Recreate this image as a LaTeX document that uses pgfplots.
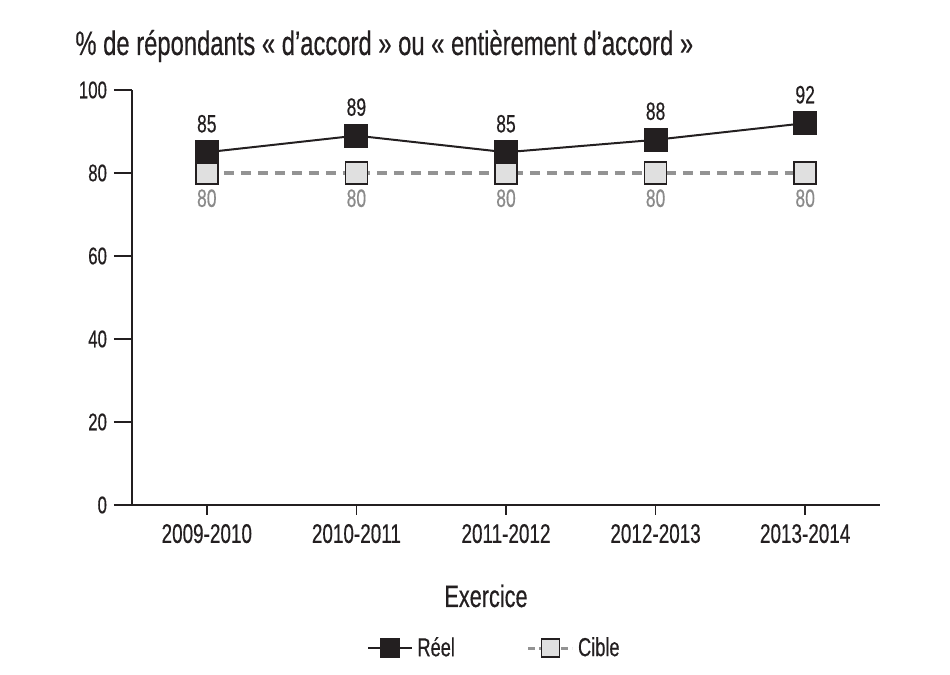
\documentclass[border=0pt]{standalone}
\usepackage{pgfplots}
\pgfplotsset{compat=1.18}
\usepackage{fontspec}
\setmainfont{Liberation Sans}[FakeStretch=0.7, FakeBold=0.4]
\definecolor{dark}{HTML}{231F20}
\definecolor{dgray}{HTML}{939393}
\definecolor{lgray}{HTML}{E0E0E0}
\definecolor{lblgray}{HTML}{8A8A8A}
\pgfplotsset{base/.style={
  at={(66pt,85pt)}, anchor=south west,
  scale only axis, width=374pt, height=207.5pt,
  xmin=-0.5, xmax=4.5, ymin=0, ymax=100,
  axis line style={-, dark, line width=0.75pt},
  tick align=outside,
  tick style={dark, line width=0.75pt},
  clip=false}}
\begin{document}
\begin{tikzpicture}[x=0.5pt,y=0.5pt]
\useasboundingbox (0,0) rectangle (950,675);
\begin{axis}[base,
  axis x line*=bottom, hide y axis,
  major tick length=5pt,
  xtick={0,1,2,3,4},
  xticklabels={2009-2010,2010-2011,2011-2012,2012-2013,2013-2014},
  xticklabel style={font=\fontsize{13.5}{15}\selectfont, text=dark, yshift=-1pt},
]
\addplot[draw=none] coordinates {(0,0)};
\end{axis}
\begin{axis}[base,
  axis y line*=left, hide x axis,
  major tick length=9pt,
  ytick={0,20,40,60,80,100},
  /pgf/number format/assume math mode=true,
  yticklabel style={font=\fontsize{12}{14}\selectfont, text=dark},
  legend style={at={(0.486,-0.345)}, anchor=center, draw=none, legend columns=2,
    font=\fontsize{13}{15}\selectfont, text=dark,
    /tikz/every even column/.append style={column sep=34pt}},
  legend cell align=left,
  legend image code/.code={\draw[mark repeat=2,mark phase=2,#1] plot coordinates {(0pt,0pt) (11pt,0pt) (22pt,0pt)};},
]
\addlegendimage{dark, line width=1pt, mark=square*, mark size=4.5pt, mark options={solid, fill=dark, draw=dark}}
\addlegendentry{Réel}
\addlegendimage{dgray, line width=1.6pt, dash pattern=on 3.5pt off 2pt, mark=square*, mark size=4.5pt, mark options={solid, fill=lgray, draw=dark, line width=0.75pt}}
\addlegendentry{Cible}
\addplot[forget plot, dgray, line width=1.6pt, dash pattern=on 5pt off 3.5pt,
  mark=square*, mark size=5.5pt,
  mark options={solid, fill=lgray, draw=dark, line width=0.75pt},
  nodes near coords, nodes near coords align={below},
  every node near coord/.append style={font=\fontsize{12.5}{14}\selectfont, text=lblgray, yshift=-4.5pt}]
  coordinates {(0,80) (1,80) (2,80) (3,80) (4,80)};
\addplot[forget plot, dark, line width=1pt,
  mark=square*, mark size=5.5pt,
  mark options={solid, fill=dark, draw=dark},
  nodes near coords, nodes near coords align={above},
  every node near coord/.append style={font=\fontsize{12.5}{14}\selectfont, text=dark, yshift=6pt}]
  coordinates {(0,85) (1,89) (2,85) (3,88) (4,92)};
\end{axis}
\node[anchor=base west, font=\fontsize{17}{19}\selectfont, text=dark, inner sep=0] at (75,620) {\% de répondants « d’accord » ou « entièrement d’accord »};
\node[anchor=base, font=\fontsize{15.5}{18}\selectfont, text=dark, inner sep=0] at (486,68) {Exercice};
\end{tikzpicture}
\end{document}
